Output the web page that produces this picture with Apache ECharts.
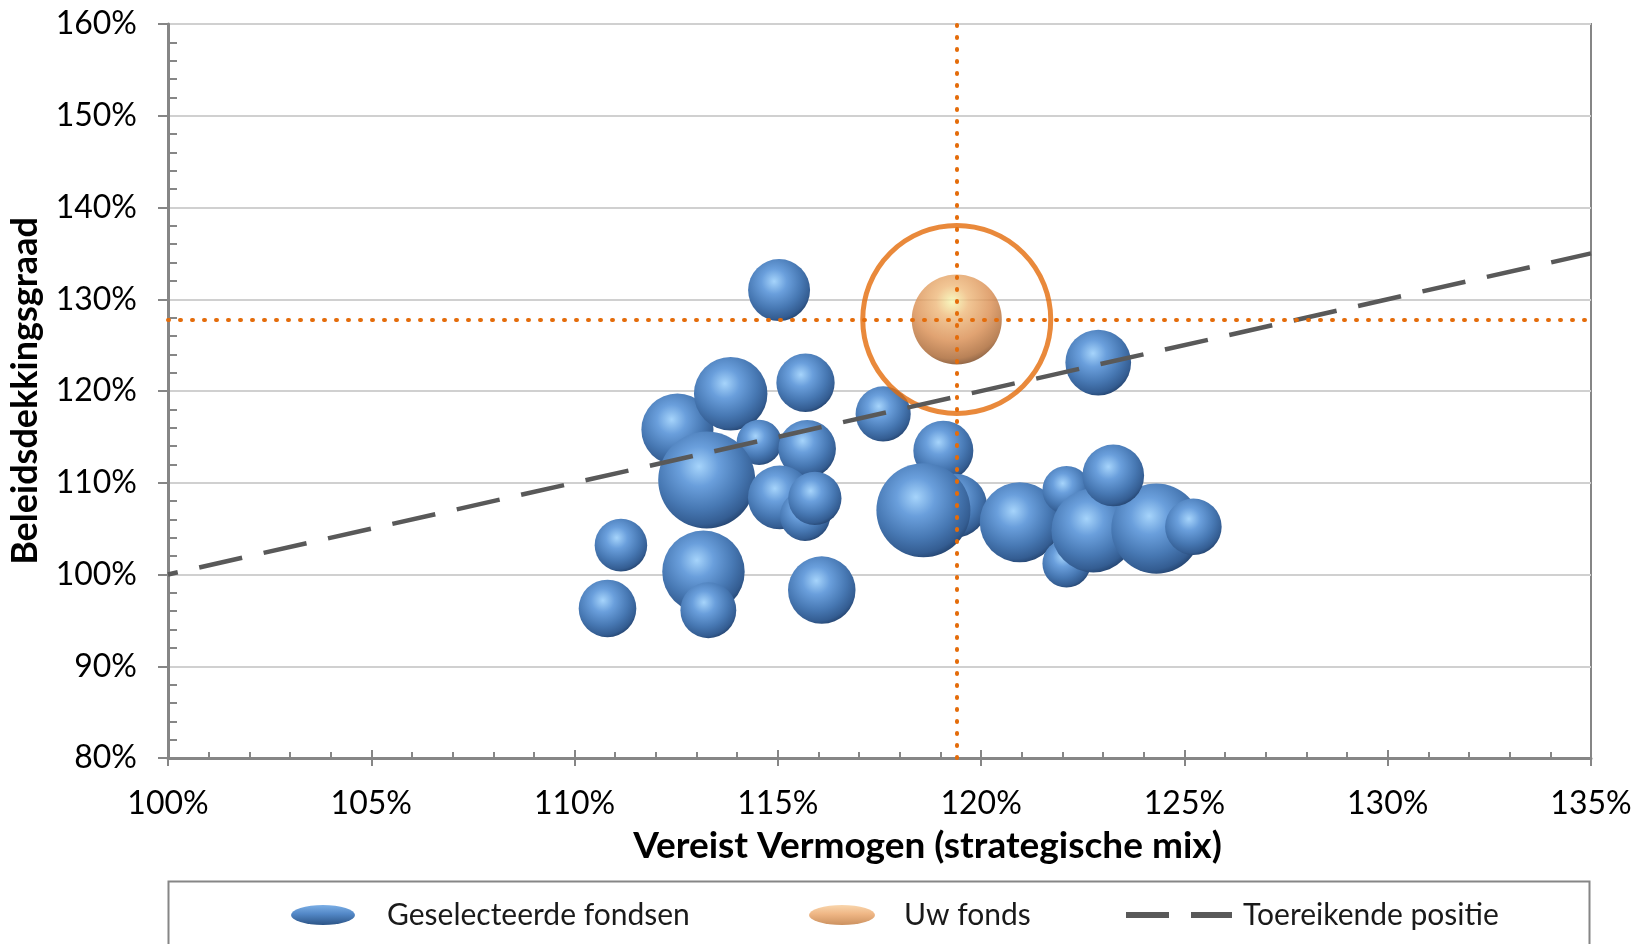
<!DOCTYPE html>
<html>
<head>
<meta charset="utf-8">
<script src="https://cdn.jsdelivr.net/npm/echarts@6/dist/echarts.min.js"></script>
<style>
html,body{margin:0;padding:0;background:#fff;}
#chart{width:1648px;height:944px;}
</style>
</head>
<body>
<div id="chart"></div>
<script>
// Vereist Vermogen (x, %), Beleidsdekkingsgraad (y, %), bubble size (relative)
const fondsX = [112.53, 113.84, 115.03, 115.68, 117.59, 114.54, 113.25, 115.72, 115.05, 115.67, 115.91,
                111.14, 110.81, 113.17, 113.29, 116.08, 119.07, 119.36, 118.58, 120.95, 122.10, 122.10,
                122.76, 124.31, 123.25, 125.22, 122.88];
const fondsY = [115.8, 119.7, 131.0, 120.9, 117.5, 114.4, 110.3, 113.7, 108.4, 106.4, 108.3,
                103.2, 96.3, 100.3, 96.1, 98.3, 113.5, 107.5, 107.0, 105.7, 101.2, 109.2,
                104.8, 105.0, 110.8, 105.2, 123.1];
const fondsSize = [13.0, 13.5, 9.6, 8.5, 7.6, 5.1, 23.5, 8.3, 10.2, 6.3, 7.1,
                   6.9, 8.3, 17.0, 7.8, 11.4, 9.0, 10.2, 22.1, 16.0, 5.8, 5.8,
                   17.6, 20.3, 9.5, 8.0, 10.8];
const uwFondsX = [119.40];
const uwFondsY = [127.8];
const uwFondsSize = [20.3];
const toereikendX = [100, 135];
const toereikendY = [100, 135];
const seriesNames = ['Geselecteerde fondsen', 'Uw fonds', 'Toereikende positie'];
const xTitle = 'Vereist Vermogen (strategische mix)';
const yTitle = 'Beleidsdekkingsgraad';

const FONT = 'Lato';
const AXIS = '#868686';
const ORANGE = '#e46c0a';

const blueSphere = {type:'radial', x:0.42, y:0.36, r:0.68, colorStops:[
  {offset:0, color:'#a6d4fb'}, {offset:0.3, color:'#6a9fdc'}, {offset:0.65, color:'#4778b3'},
  {offset:0.88, color:'#345d92'}, {offset:1, color:'#22406a'}]};
const orangeSphere = {type:'radial', x:0.45, y:0.3, r:0.72, colorStops:[
  {offset:0, color:'#f6f7b0'}, {offset:0.25, color:'#eeb87a'}, {offset:0.6, color:'#d98c4f'},
  {offset:0.88, color:'#a8632e'}, {offset:1, color:'#6e3c17'}]};
const blueFlat = {type:'linear', x:0, y:0, x2:0, y2:1, colorStops:[
  {offset:0, color:'#7cafe6'}, {offset:0.45, color:'#5287c6'}, {offset:1, color:'#2c5486'}]};
const orangeFlat = {type:'linear', x:0, y:0, x2:0, y2:1, colorStops:[
  {offset:0, color:'#f7cb98'}, {offset:0.45, color:'#eba466'}, {offset:1, color:'#bf7638'}]};

const fondsData = fondsX.map((x, i) => [x, fondsY[i], fondsSize[i]]);
const uwData = uwFondsX.map((x, i) => [x, uwFondsY[i], uwFondsSize[i]]);
const lineData = toereikendX.map((x, i) => [x, toereikendY[i]]);
const bubbleDiameter = v => 20 * Math.sqrt(v[2]);

const chart = echarts.init(document.getElementById('chart'), null, {renderer:'canvas'});
const legendText = {fontFamily: FONT, fontSize: 30, color: '#1a1a1a'};
chart.setOption({
  animation: false,
  backgroundColor: '#fff',
  grid: {left: 168, right: 57, top: 24, bottom: 186, show: true, borderColor: AXIS, borderWidth: 2, outerBoundsMode: 'none'},
  xAxis: [{
    type: 'value', min: 100, max: 135, interval: 5, position: 'bottom',
    name: xTitle, nameLocation: 'middle', nameGap: 70,
    nameTextStyle: {fontFamily: FONT, fontSize: 37, fontWeight: 'bold', color: '#000', padding: [0,0,0,96]},
    axisLine: {show: true, lineStyle: {color: AXIS, width: 3}},
    axisTick: {show: true, inside: false, length: 8, lineStyle: {color: AXIS, width: 2}},
    axisLabel: {formatter: '{value}%', fontFamily: FONT, fontSize: 32, color: '#000', margin: 30},
    splitLine: {show: false}
  }, {
    type: 'value', min: 100, max: 135, interval: 5, position: 'bottom',
    axisLine: {show: false},
    axisTick: {show: true, inside: true, length: 8, lineStyle: {color: AXIS, width: 2}},
    minorTick: {show: true, splitNumber: 5, length: 6, lineStyle: {color: AXIS, width: 2}},
    axisLabel: {show: false}, splitLine: {show: false}
  }],
  yAxis: [{
    type: 'value', min: 80, max: 160, interval: 10, position: 'left',
    name: yTitle, nameLocation: 'middle', nameGap: 125,
    nameTextStyle: {fontFamily: FONT, fontSize: 36, fontWeight: 'bold', color: '#000'},
    axisLine: {show: true, lineStyle: {color: AXIS, width: 3}},
    axisTick: {show: true, inside: false, length: 10, lineStyle: {color: AXIS, width: 2}},
    axisLabel: {formatter: '{value}%', fontFamily: FONT, fontSize: 32, color: '#000', margin: 31},
    splitLine: {show: true, lineStyle: {color: '#d0d0d0', width: 2}}
  }, {
    type: 'value', min: 80, max: 160, interval: 10, position: 'left',
    axisLine: {show: false},
    axisTick: {show: true, inside: true, length: 0, lineStyle: {color: AXIS, width: 2}},
    minorTick: {show: true, splitNumber: 5, length: 9, lineStyle: {color: AXIS, width: 2}},
    axisLabel: {show: false}, splitLine: {show: false}
  }],
  legend: [{
    left: 291, top: 900, padding: 0, itemWidth: 64, itemHeight: 20,
    textStyle: Object.assign({padding: [0,0,0,27]}, legendText),
    data: [{name: seriesNames[0], icon: 'path://M0,10A32,10,0,1,1,64,10A32,10,0,1,1,0,10Z', itemStyle: {color: blueFlat}}]
  }, {
    left: 809, top: 900, padding: 0, itemWidth: 66, itemHeight: 20,
    textStyle: Object.assign({padding: [0,0,0,24]}, legendText),
    data: [{name: seriesNames[1], icon: 'path://M0,10A33,10,0,1,1,66,10A33,10,0,1,1,0,10Z', itemStyle: {color: orangeFlat}}]
  }, {
    left: 1126, top: 900, padding: 0, itemWidth: 106, itemHeight: 6,
    textStyle: Object.assign({padding: [0,0,0,6]}, legendText),
    data: [{name: seriesNames[2], icon: 'path://M0,0H43V6H0Z M65,0H106V6H65Z'}]
  }],
  graphic: [{
    type: 'rect', left: 166, top: 879, silent: true, z: -1,
    shape: {width: 1421, height: 120},
    style: {fill: 'none', stroke: AXIS, lineWidth: 2}
  }],
  series: [{
    name: seriesNames[0], type: 'scatter', data: fondsData, symbolSize: bubbleDiameter,
    itemStyle: {color: blueSphere, opacity: 1}, z: 2, silent: true
  }, {
    name: 'ring', type: 'scatter', data: uwData, symbol: 'circle', symbolSize: 188,
    itemStyle: {color: 'rgba(0,0,0,0)', borderColor: ORANGE, borderWidth: 5}, z: 3, silent: true
  }, {
    name: seriesNames[1], type: 'scatter', data: uwData, symbolSize: bubbleDiameter,
    itemStyle: {color: orangeSphere}, z: 3, silent: true,
    markLine: {
      silent: true, symbol: 'none', label: {show: false},
      lineStyle: {color: ORANGE, width: 4, type: [1, 11], cap: 'round'},
      data: [{xAxis: uwFondsX[0]}, {yAxis: uwFondsY[0]}]
    }
  }, {
    name: seriesNames[2], type: 'line', data: lineData, showSymbol: false, symbol: 'none',
    itemStyle: {color: '#595959'},
    lineStyle: {color: '#595959', width: 4.5, type: [44, 22], dashOffset: 34}, z: 4, silent: true
  }]
});
</script>
</body>
</html>
